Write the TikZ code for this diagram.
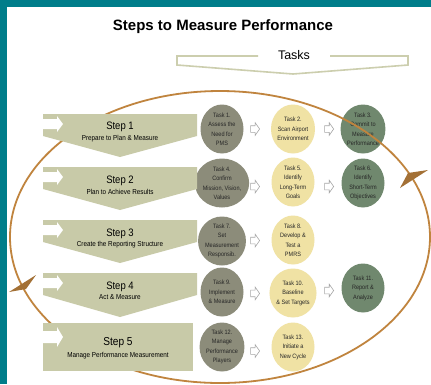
\documentclass[tikz,border=0pt]{standalone}
\usepackage{fontspec}
\setmainfont{Liberation Sans}
\newfontfamily\narrowfont[FakeStretch=0.88]{Liberation Sans}
\usetikzlibrary{shapes.geometric,shapes.arrows,calc}
\definecolor{frameteal}{RGB}{0,125,138}
\definecolor{stepgreen}{RGB}{200,202,168}
\definecolor{taskgray}{RGB}{140,140,122}
\definecolor{taskyellow}{RGB}{240,226,164}
\definecolor{taskgreen}{RGB}{112,136,110}
\definecolor{cycleorange}{RGB}{192,132,62}
\definecolor{bracketolive}{RGB}{204,206,174}

\begin{document}
\begin{tikzpicture}[x=1pt,y=-1pt]
\tikzstyle{every node}+=[inner sep=0pt]
\tikzstyle{task}=[ellipse, minimum width=43pt, minimum height=49pt, align=center, text=black!85, font=\narrowfont\fontsize{6.3}{9.5}\selectfont]
\tikzstyle{stepshape}=[fill=stepgreen]
\tikzstyle{steptitle}=[font=\narrowfont\fontsize{10.8}{12}\selectfont]
\tikzstyle{stepsub}=[font=\narrowfont\fontsize{7.2}{9}\selectfont]
\tikzstyle{tarrow}=[single arrow, draw=black!35, fill=white, line width=0.6pt, inner xsep=0pt, inner ysep=3pt, single arrow head extend=3pt, single arrow tip angle=110, minimum height=9pt]
\useasboundingbox (0,0) rectangle (431,384);
\fill [white] (0,0) rectangle (431,384);
% frame
\fill [frameteal] (0,0) rectangle (431,7);
\fill [frameteal] (0,0) rectangle (7,384);
% heading
\node [anchor=base] (title) at (223,30) {\fontsize{15}{18}\selectfont\bfseries Steps to Measure Performance};
\node (tasks) at (294,55) {\fontsize{12.5}{15}\selectfont Tasks};
\draw [bracketolive, line width=1.6pt] (258,56) -- (177,56) -- (177,65) -- (293,74) -- (408,65) -- (408,56) -- (330,56);
% tasks
\node [task, fill=taskgray] (t1) at (222,129) {Task 1.\\Assess the\\Need for\\PMS};
\node [task, fill=taskyellow] (t2) at (293,129) {Task 2.\\Scan Airport\\Environment};
\node [task, fill=taskgreen] (t3) at (363,129) {Task 3.\\Commit to\\Measure\\Performance};
\node [task, fill=taskgray] (t4) at (222,183) {Task 4.\\Confirm\\Mission, Vision,\\Values};
\node [task, fill=taskyellow] (t5) at (293,182) {Task 5.\\Identify\\Long-Term\\Goals};
\node [task, fill=taskgreen] (t6) at (363,183) {Task 6.\\Identify\\Short-Term\\Objectives};
\node [task, fill=taskgray] (t7) at (222,241) {Task 7.\\Set\\Measurement\\Responsib.};
\node [task, fill=taskyellow] (t8) at (293,240) {Task 8.\\Develop \&\\Test a\\PMRS};
\node [task, fill=taskgray] (t9) at (222,292) {Task 9.\\Implement\\\& Measure};
\node [task, fill=taskyellow] (t10) at (293,293) {Task 10.\\Baseline\\\& Set Targets};
\node [task, fill=taskgreen] (t11) at (363,288) {Task 11.\\Report \&\\Analyze};
\node [task, fill=taskgray] (t12) at (222,347) {Task 12.\\Manage\\Performance\\Players};
\node [task, fill=taskyellow] (t13) at (293,347) {Task 13.\\Initiate a\\New Cycle};
% cycle
\draw [cycleorange, line width=1.8pt] (220,237) ellipse [x radius=210pt, y radius=146pt];
\fill [cycleorange!85!black] (408,173) -- (428,170) -- (400,188) -- cycle;
\fill [cycleorange!85!black] (36,275) -- (9,292) -- (26,289) -- cycle;
% steps
\fill [stepshape] (43,114) -- (197,114) -- (197,136) -- (120,157) -- (43,136) -- cycle;
\fill [white] (43,119) -- (57,119) -- (57,116) -- (63,124) -- (57,132) -- (57,129) -- (43,129) -- cycle;
\fill [stepshape] (43,167) -- (197,167) -- (197,189) -- (120,210) -- (43,189) -- cycle;
\fill [white] (43,172) -- (57,172) -- (57,169) -- (63,177) -- (57,185) -- (57,182) -- (43,182) -- cycle;
\fill [stepshape] (43,220) -- (197,220) -- (197,242) -- (120,263) -- (43,242) -- cycle;
\fill [white] (43,225) -- (57,225) -- (57,222) -- (63,230) -- (57,238) -- (57,235) -- (43,235) -- cycle;
\fill [stepshape] (43,273) -- (197,273) -- (197,295) -- (120,317) -- (43,295) -- cycle;
\fill [white] (43,278) -- (57,278) -- (57,275) -- (63,283) -- (57,291) -- (57,288) -- (43,288) -- cycle;
\fill [stepshape] (43,323) rectangle (193,371);
\fill [white] (43,331) -- (57,331) -- (57,327) -- (63,337) -- (57,347) -- (57,343) -- (43,343) -- cycle;
\node [steptitle] (s1) at (120,126.5) {Step 1};
\node [stepsub] (s1sub) at (120,138.5) {Prepare to Plan \& Measure};
\node [steptitle] (s2) at (120,180.5) {Step 2};
\node [stepsub] (s2sub) at (120,191.5) {Plan to Achieve Results};
\node [steptitle] (s3) at (120,233.5) {Step 3};
\node [stepsub] (s3sub) at (120,244.5) {Create the Reporting Structure};
\node [steptitle] (s4) at (120,286.5) {Step 4};
\node [stepsub] (s4sub) at (120,297.5) {Act \& Measure};
\node [steptitle, font=\narrowfont\fontsize{11.5}{13}\selectfont] (s5) at (118,342.5) {Step 5};
\node [stepsub] (s5sub) at (118,355.5) {Manage Performance Measurement};
% task arrows
\node [tarrow] (a1) at ($(t1)!0.45!(t2)$) {};
\node [tarrow] (a2) at ($(t2)!0.5!(t3)$) {};
\node [tarrow] (a3) at ($(t4)!0.45!(t5)+(0,4)$) {};
\node [tarrow] (a4) at ($(t5)!0.5!(t6)+(0,4)$) {};
\node [tarrow] (a5) at ($(t7)!0.45!(t8)$) {};
\node [tarrow] (a6) at ($(t9)!0.45!(t10)+(0,1)$) {};
\node [tarrow] (a7) at ($(t10)!0.5!(t11)$) {};
\node [tarrow] (a8) at ($(t12)!0.45!(t13)+(0,4)$) {};
\end{tikzpicture}
\end{document}
